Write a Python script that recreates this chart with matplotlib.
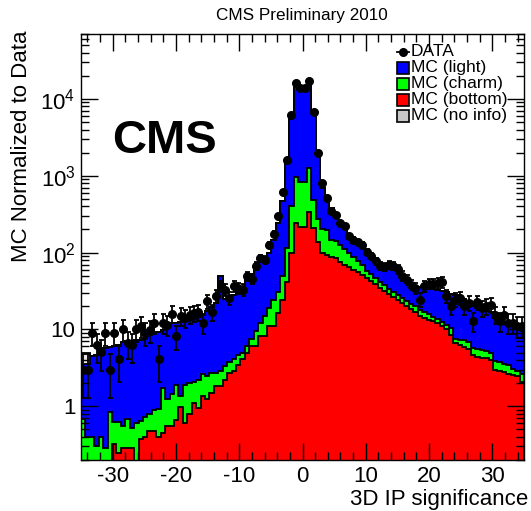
import numpy as np
import matplotlib
matplotlib.use("Agg")
import matplotlib.pyplot as plt
from matplotlib.lines import Line2D
from matplotlib.patches import Rectangle
from matplotlib.ticker import MultipleLocator, LogLocator, NullFormatter, FixedLocator, FixedFormatter

plt.rcParams['font.family'] = ['Liberation Sans', 'DejaVu Sans']
plt.rcParams['mathtext.default'] = 'regular'
plt.rcParams['axes.unicode_minus'] = False

# 100 bins of width 0.7 between -35 and 35
edges = np.linspace(-35, 35, 101)

data = [3.0, 3.0, 9.0, 6.2, 5.1, 9.0, 3.0, 9.0, 4.1, 10,
        6.7, 6.2, 10, 11, 9.0, 9.8, 12.2, 4.1, 12.2, 11.6,
        16.1, 8.2, 14.9, 14.2, 15.6, 16.4, 16.8, 12.2, 23.3, 16.8,
        27.6, 36.5, 33, 25.8, 36.5, 34.7, 33, 49.2, 45.5, 67.7,
        85.2, 81, 127, 176, 296, 607, 1610, 6190, 16300, 13700,
        13700, 17300, 6840, 1970, 802, 512, 344, 311, 243, 220,
        163, 147, 136, 127, 101, 89.5, 77, 67.7, 65, 69.8,
        67.7, 61.3, 50.2, 44.6, 38.4, 34.7, 24.5, 36.5, 39.5, 39.5,
        40.3, 41.1, 27, 20.1, 24.5, 25.8, 20.1, 22.2, 12.8, 22.6,
        19.1, 20.1, 21.1, 15.6, 12.8, 15.6, 12.2, 12.2, 11, 11]

# stacked heights: bottom, bottom+charm, bottom+charm+light
stack_light = [3.5, 3.5, 4.5, 4.6, 4.8, 5.8, 5.9, 6.0, 6.2, 6.8,
               7.0, 7.0, 7.2, 7.3, 7.5, 8.5, 9.0, 9.2, 9.8, 11.5,
               12.0, 12.3, 12.5, 12.8, 13.2, 13.8, 14.5, 15.5, 17.5, 19.5,
               22, 50, 25, 26, 28, 30, 33, 47, 52, 70,
               85, 82, 100, 147, 243, 463, 1550, 6200, 15100, 14500,
               13700, 16600, 6800, 2000, 700, 480, 380, 330, 260, 220,
               175, 150, 135, 122, 100, 88, 78, 68, 64, 62,
               60, 56, 50, 45, 40, 36, 36, 35, 34, 34,
               33, 32, 31, 29, 28, 26, 25, 23, 20, 19,
               18, 17.5, 17, 14, 13, 12.5, 12, 11, 10, 9.5]

stack_charm = [0.68, 0.40, 0.40, 0.30, 0.40, 0.29, 0.85, 0.62, 0.62, 0.55,
               0.68, 0.52, 0.60, 0.65, 0.72, 0.80, 0.90, 0.92, 1.75, 1.25,
               1.45, 1.9, 1.35, 1.9, 2.0, 2.1, 2.2, 2.6, 2.5, 2.7,
               2.7, 2.9, 3.3, 3.8, 4.1, 4.6, 5.0, 6.0, 7.5, 9.5,
               12, 15, 19, 24, 31, 50, 115, 400, 970, 830,
               830, 1270, 490, 270, 200, 195, 147, 140, 125, 112,
               100, 88, 78, 68, 58, 52, 47, 42, 38, 34,
               31, 28, 26, 23.5, 21.5, 20, 18, 17, 16, 14.7,
               13.5, 12.5, 11.5, 10.5, 7.6, 7.4, 7.2, 6.8, 5.7, 5.5,
               5.4, 5.3, 5.0, 3.9, 3.8, 3.6, 3.4, 3.1, 2.9, 2.6]

stack_bottom = [0, 0, 0, 0, 0, 0, 0, 0.32, 0.25, 0.29,
                0.29, 0.29, 0, 0.37, 0.40, 0.48, 0.48, 0.40, 0.45, 0.55,
                0.55, 0.66, 0.97, 0.6, 0.8, 1.1, 0.95, 1.36, 1.24, 1.47,
                1.83, 1.83, 2.2, 2.75, 2.9, 3.4, 4.1, 4.9, 6.1, 6.1,
                8.2, 8.2, 11, 11, 16.6, 24.5, 42, 100, 240, 218,
                218, 340, 210, 139, 100, 92, 88, 84, 76, 70,
                65, 60, 56, 51, 47, 43, 39, 35, 32, 29,
                26.5, 24, 22, 20, 18.5, 17, 15, 14, 13.2, 12.7,
                12, 11, 10, 8.5, 6.6, 6.2, 5.9, 5.6, 4.6, 4.4,
                4.3, 4.2, 4.0, 3.0, 2.9, 2.8, 2.65, 2.55, 2.45, 2.05]

noinfo_bins = [0, 1, 99]
noinfo_extra = [1.5, 1.5, 1.5]

W, H = 531, 511
fig = plt.figure(figsize=(W / 100, H / 100), dpi=100)
ax = fig.add_axes([81 / W, 1 - 460 / H, (524 - 81) / W, (460 - 34) / H])

floor = 1e-3
stack_noinfo = np.array(stack_light, dtype=float)
stack_noinfo[noinfo_bins] += noinfo_extra

layers = [(stack_noinfo, '#e4e4e4'), (stack_light, '#0000ff'),
          (stack_charm, '#00ff00'), (stack_bottom, '#ff0000')]
for vals, col in layers:
    vals = np.maximum(np.asarray(vals, dtype=float), floor)
    ax.stairs(vals, edges, baseline=floor, fill=True, facecolor=col,
              edgecolor='black', linewidth=1.3)

centers = 0.5 * (edges[:-1] + edges[1:])
d = np.asarray(data, dtype=float)
ax.errorbar(centers, d, yerr=np.sqrt(d), fmt='o', color='black', ms=5.5,
            elinewidth=1.3, capsize=1.8, capthick=1.3)

ax.set_xlim(-35, 35)
ax.set_yscale('log')
ax.set_ylim(0.2, 7e4)

ax.xaxis.set_major_locator(MultipleLocator(10))
ax.xaxis.set_minor_locator(MultipleLocator(2))
ax.yaxis.set_major_locator(FixedLocator([1, 10, 100, 1000, 10000]))
ax.yaxis.set_major_formatter(FixedFormatter(['1', '10', '$10^{2}$', '$10^{3}$', '$10^{4}$']))
ax.yaxis.set_minor_locator(LogLocator(base=10, subs=np.arange(2, 10)))
ax.yaxis.set_minor_formatter(NullFormatter())

ax.tick_params(which='both', direction='in', top=True, right=True, width=1.0, labelsize=16)
ax.tick_params(which='major', length=12)
ax.tick_params(which='minor', length=6)
ax.tick_params(axis='x', pad=4)
ax.tick_params(axis='y', pad=4)
for s in ax.spines.values():
    s.set_linewidth(1.0)

fig.text(302 / W, 1 - 15 / H, 'CMS Preliminary 2010', fontsize=12.3, ha='center', va='center')
fig.text(22 / W, 1 - 30 / H, 'MC Normalized to Data', fontsize=16, rotation=90, ha='center', va='top')
fig.text(528 / W, 1 - 510 / H, '3D IP significance', fontsize=16, ha='right', va='bottom')
fig.text(112 / W, 1 - 141 / H, 'CMS', fontsize=34, fontweight='bold', ha='left', va='center')

# legend drawn by hand, ROOT style
labels = ['DATA', 'MC (light)', 'MC (charm)', 'MC (bottom)', 'MC (no info)']
colors = [None, '#0000ff', '#00ff00', '#ff0000', '#c8c8c8']
for i, (lab, col) in enumerate(zip(labels, colors)):
    yc = 52 + 15.9 * i
    if col is None:
        fig.add_artist(Line2D([397 / W, 409 / W], [1 - yc / H] * 2, color='black', lw=1.3))
        fig.add_artist(Line2D([403 / W], [1 - yc / H], marker='o', color='black', ms=5.5))
    else:
        fig.add_artist(Rectangle((397 / W, 1 - (yc + 6) / H), 12 / W, 12 / H,
                                 transform=fig.transFigure, facecolor=col,
                                 edgecolor='black', linewidth=1.2))
    fig.text(411 / W, 1 - yc / H, lab, fontsize=12.5, ha='left', va='center')

fig.savefig('out.png', dpi=100)
